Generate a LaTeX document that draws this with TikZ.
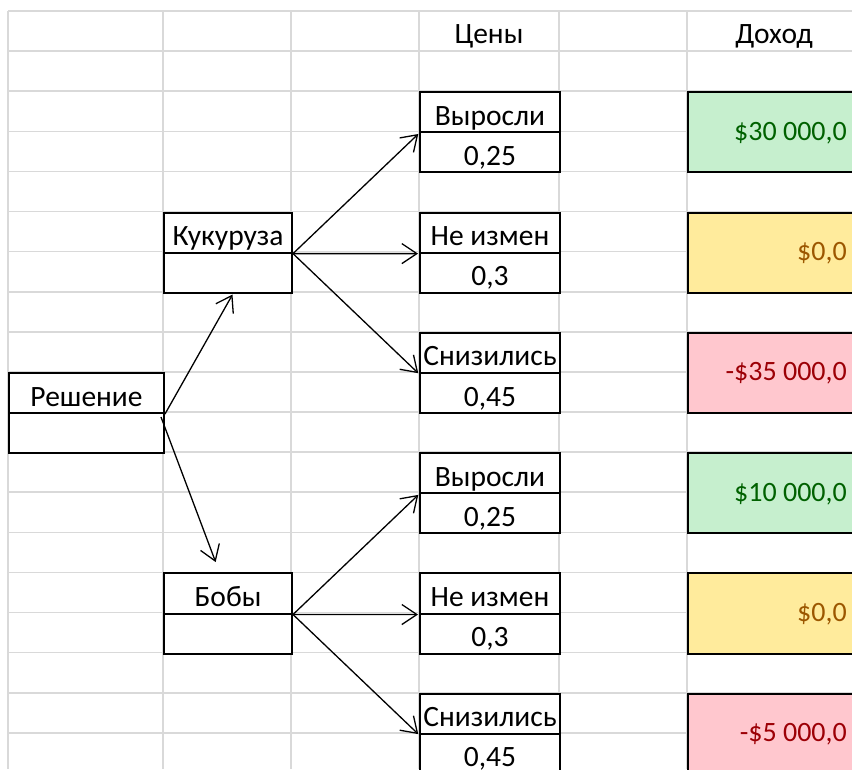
\documentclass[tikz,border=0pt]{standalone}
\usepackage{fontspec}
\setmainfont{Carlito}
\usetikzlibrary{arrows.meta,calc}
\definecolor{gridc}{HTML}{D9D9D9}
\definecolor{goodf}{HTML}{C6EFCE}
\definecolor{goodt}{HTML}{006100}
\definecolor{neutf}{HTML}{FFEB9C}
\definecolor{neutt}{HTML}{9C5700}
\definecolor{badf}{HTML}{FFC7CE}
\definecolor{badt}{HTML}{9C0006}
\begin{document}
\begin{tikzpicture}[x=1pt,y=-1pt,
  font=\fontsize{29.5}{33}\selectfont,
  gridline/.style={draw=gridc,line width=1.6pt},
  cellA/.style={draw=black,fill=white,line width=2pt,inner sep=0pt,minimum width=155pt,minimum height=40.1pt,anchor=north west},
  cellB/.style={draw=black,fill=white,line width=2pt,inner sep=0pt,minimum width=128pt,minimum height=40.1pt,anchor=north west},
  cellC/.style={draw=black,fill=white,line width=2pt,inner sep=0pt,minimum width=140pt,minimum height=40.1pt,anchor=north west},
  incbox/.style={draw=black,line width=2pt,inner sep=0pt,minimum width=200pt,minimum height=80.2pt,anchor=north west},
  lbl/.style={anchor=base,inner sep=0pt},
  vallbl/.style={anchor=base east,inner sep=0pt,font=\fontsize{28}{32}\selectfont},
  arr/.style={line width=1.3pt,-{Straight Barb[length=15pt,width=20pt,line width=1.3pt]},shorten >=1pt}
]
\clip (0,0) rectangle (852,769);
\fill[white] (0,0) rectangle (852,769);
% grid
\foreach \k in {0,...,19}{
  \draw[gridline] (8,11+40.1*\k) -- (852,11+40.1*\k);
}
\foreach \xx in {8,163,291,419,559,687}{
  \draw[gridline] (\xx,11) -- (\xx,769);
}
% headers
\node[lbl] (hprice) at (489,43) {Цены};
\node[lbl] (hinc) at (774,43) {Доход};
% decision box
\node[cellA] (resh) at (8,371.9) {};
\node[cellA] (reshv) at (8,412) {};
\node[lbl] (reshT) at ($(resh.south)+(0,-8)$) {Решение};
% corn
\node[cellB] (kuk) at (163,211.5) {};
\node[cellB] (kukv) at (163,251.6) {};
\node[lbl] (kukT) at ($(kuk.south)+(0,-8)$) {Кукуруза};
% beans
\node[cellB] (bob) at (163,572.4) {};
\node[cellB] (bobv) at (163,612.5) {};
\node[lbl] (bobT) at ($(bob.south)+(0,-8)$) {Бобы};
% price boxes
\foreach \nm/\k/\txt/\p in {a1/2/Выросли/0{,}25, a2/5/Не измен/0{,}3, a3/8/Снизились/0{,}45, b1/11/Выросли/0{,}25, b2/14/Не измен/0{,}3, b3/17/Снизились/0{,}45}{
  \node[cellC] (\nm) at (419,11+40.1*\k) {};
  \node[cellC] (\nm v) at (419,11+40.1*\k+40.1) {};
  \node[lbl] (\nm T) at ($(\nm.south)+(0,-8)$) {\txt};
  \node[lbl] (\nm P) at ($(\nm v.south)+(0,-8)$) {\p};
}
% income boxes
\node[incbox,fill=goodf] (i1) at (687,91.2) {};
\node[incbox,fill=neutf] (i2) at (687,211.5) {};
\node[incbox,fill=badf] (i3) at (687,331.8) {};
\node[incbox,fill=goodf] (i4) at (687,452.1) {};
\node[incbox,fill=neutf] (i5) at (687,572.4) {};
\node[incbox,fill=badf] (i6) at (687,692.7) {};
\node[vallbl,text=goodt] (v1) at (847,140.3) {\$30~000,0};
\node[vallbl,text=neutt] (v2) at (847,260.6) {\$0,0};
\node[vallbl,text=badt] (v3) at (847,380.9) {-\$35~000,0};
\node[vallbl,text=goodt] (v4) at (847,501.2) {\$10~000,0};
\node[vallbl,text=neutt] (v5) at (847,621.5) {\$0,0};
\node[vallbl,text=badt] (v6) at (847,741.8) {-\$5~000,0};
% arrows
\coordinate (rs1) at (resh.south east);
\coordinate (rs2) at (161,417);
\coordinate (kukend) at ($(kukv.south)+(5,0)$);
\coordinate (bobend) at (216,563);
\draw[arr] (rs1) -- (kukend);
\draw[arr] (rs2) -- (bobend);
\draw[arr] (kuk.south east) -- (a1.south west);
\draw[arr] (kuk.south east) -- (a2.south west);
\draw[arr] (kuk.south east) -- (a3.south west);
\draw[arr] (bob.south east) -- (b1.south west);
\draw[arr] (bob.south east) -- (b2.south west);
\draw[arr] (bob.south east) -- (b3.south west);
\end{tikzpicture}
\end{document}
